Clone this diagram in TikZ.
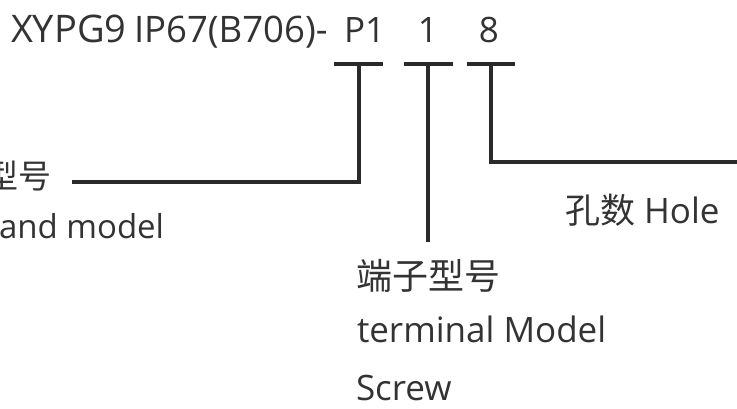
\documentclass[tikz,border=0pt]{standalone}
\usepackage{fontspec}
\setmainfont{Open Sans}
\newfontfamily\cjk{Noto Sans CJK SC}
\definecolor{ink}{HTML}{2A2A2A}
\definecolor{txt}{HTML}{333333}
\begin{document}
\begin{tikzpicture}[x=1pt,y=-1pt,
  lbl/.style={inner sep=0pt,outer sep=0pt,text=txt,font=\fontsize{35}{38}\selectfont},
  cjklbl/.style={inner sep=0pt,outer sep=0pt,text=txt,font=\fontsize{36}{38}\cjk},
  code/.style={inner sep=0pt,outer sep=0pt,text=txt},
  conn/.style={draw=ink,line width=4pt,line cap=butt,line join=miter}]
\useasboundingbox (0,0) rectangle (737,409);
\clip (0,0) rectangle (737,409);
\fill[white] (0,0) rectangle (737,409);
% top code
\node[code,anchor=base west,font=\fontsize{38}{40}\selectfont] (xy) at (11,43) {XYPG9};
\node[code,anchor=base west,font=\fontsize{36.5}{38}\selectfont] (ip) at (134,43) {IP67(B706)-};
\node[code,anchor=base west,font=\fontsize{35}{38}\selectfont] (p1) at (344,43) {P1};
\node[code,anchor=base,font=\fontsize{35}{38}\selectfont] (one) at (428,43) {1};
\node[code,anchor=base,font=\fontsize{35}{38}\selectfont] (eight) at (489,43) {8};
% bars
\coordinate (b1l) at (334,64); \coordinate (b1r) at (383,64); \coordinate (b1m) at (359,64);
\coordinate (b2l) at (404,64); \coordinate (b2r) at (453,64); \coordinate (b2m) at (428,64);
\coordinate (b3l) at (467,64); \coordinate (b3r) at (515,64); \coordinate (b3m) at (491,64);
\coordinate (c1) at (359,182); \coordinate (e1) at (72,182);
\coordinate (e2) at (428,242);
\coordinate (c3) at (491,162); \coordinate (e3) at (745,162);
\draw[conn] (b1l) -- (b1r);
\draw[conn] (b2l) -- (b2r);
\draw[conn] (b3l) -- (b3r);
\draw[conn] (b1m) -- (c1) -- (e1);
\draw[conn] (b2m) -- (e2);
\draw[conn] (b3m) -- (c3) -- (e3);
% labels
\node[inner sep=0pt,outer sep=0pt,text=txt,font=\fontsize{33}{36}\cjk,anchor=base east] (brandcn) at (52,189) {型号};
\node[inner sep=0pt,outer sep=0pt,text=txt,font=\fontsize{33}{36}\selectfont,anchor=base west] (branden) at (-1,238) {and model};
\node[lbl,anchor=base west] (hole) at (565,223) {{\fontsize{35}{38}\cjk 孔数} Hole};
\node[cjklbl,anchor=base west] (termcn) at (356,289) {端子型号};
\node[lbl,anchor=base west] (termen) at (357,342) {terminal Model};
\node[lbl,anchor=base west] (screw) at (356,400) {Screw};
\end{tikzpicture}
\end{document}
